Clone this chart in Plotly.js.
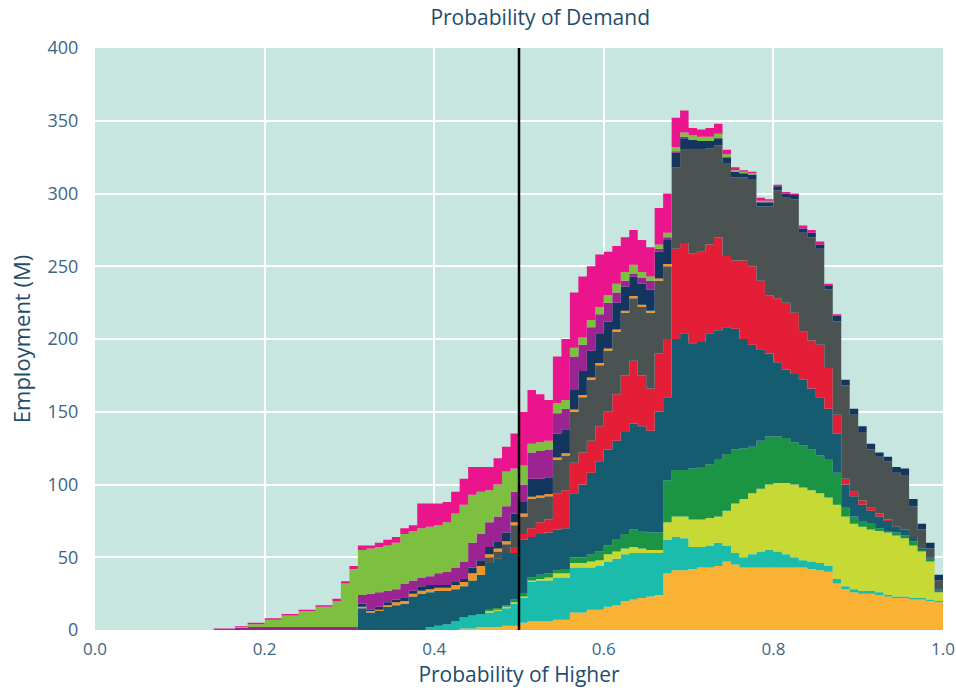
<!DOCTYPE html>
<html>
<head>
<meta charset="utf-8">
<script src="https://cdn.plot.ly/plotly-3.0.1.min.js"></script>
<style>html,body{margin:0;padding:0;background:#fff;}#chart{width:956px;height:693px;}</style>
</head>
<body>
<div id="chart"></div>
<script>
// x positions (Probability of Higher)
const xVals = [0.14,0.165,0.18,0.20,0.22,0.24,0.26,0.28,0.29,0.30,
  0.31,0.32,0.33,0.34,0.35,0.36,0.37,0.38,0.39,0.40,
  0.41,0.42,0.43,0.44,0.45,0.46,0.47,0.48,0.49,0.50,
  0.51,0.52,0.53,0.54,0.55,0.56,0.57,0.58,0.59,0.60,
  0.61,0.62,0.63,0.64,0.65,0.66,0.67,0.68,0.69,0.70,
  0.71,0.72,0.73,0.74,0.75,0.76,0.77,0.78,0.79,0.80,
  0.81,0.82,0.83,0.84,0.85,0.86,0.87,0.88,0.89,0.90,
  0.91,0.92,0.93,0.94,0.95,0.96,0.97,0.98,0.99,1.00];

// cumulative top of each band (Employment, M), bottom band first
const topOrange = [0,0,0,0,0,0,0,0,0,0, 0,0,0,0,0,0,0,0,0,0,
  0,0,1,1,2,2,2,3,3,5, 6,6,6,7,7,12,12,14,14,16,
  17,20,21,22,23,24,39,41,41,42, 43,43,44,47,45,43,43,43,43,43,
  43,43,43,42,41,40,32,28,26,25, 25,24,23,22,22,21,21,20,19,18];
const topCyan = [0,0,0,0,0,0,0,0,0,0, 0,0,0,0,0,0,0,0,2,3,
  4,6,9,10,11,12,13,15,18,22, 33,34,34,36,36,43,43,43,44,47,
  49,52,53,53,53,53,62,64,63,57, 57,58,60,58,53,50,52,54,55,54,
  52,50,48,47,46,44,35,30,28,27, 27,26,24,23,23,22,22,21,20,19];
const topYellow = [0,0,0,0,0,0,0,0,0,0, 0,0,0,0,0,0,0,0,2,3,
  4,6,9,10,11,13,14,16,19,23, 34,35,36,39,39,46,46,47,48,52,
  54,56,57,56,55,55,74,78,78,76, 76,77,78,82,87,90,94,97,100,101,
  101,100,98,96,94,91,86,78,73,71, 69,68,67,65,63,58,54,47,26,24];
const topGreen = [0,0,0,0,0,0,0,0,0,0, 0,0,0,0,0,0,0,0,2,3,
  4,6,9,10,11,14,15,17,21,25, 36,38,39,41,42,50,50,52,54,58,
  62,66,69,68,67,67,103,110,110,111, 112,114,117,121,124,125,126,130,133,133,
  132,129,127,124,120,117,108,84,78,75, 73,70,68,67,65,61,55,49,27,25];
const topTeal = [0,0,0,0,0,0,0,0,0,0, 15,12,13,16,17,18,23,25,26,27,
  27,28,30,34,38,46,49,53,53,62, 64,66,67,69,70,94,100,108,116,124,
  130,136,142,140,137,150,160,200,204,197, 198,204,206,208,207,200,196,193,190,184,
  179,176,172,166,160,152,135,100,92,86, 82,78,75,71,69,64,56,50,28,25];
const topRed = [0,0,0,0,0,0,0,0,0,0, 15,12,13,16,17,18,23,25,26,27,
  27,28,30,34,38,46,49,53,57,66, 70,74,76,94,96,115,122,130,140,150,
  162,175,185,175,166,190,200,262,266,259, 260,265,270,257,254,254,250,240,230,228,
  225,218,205,199,196,180,148,104,95,89, 84,80,76,71,69,64,56,50,28,25];
const topGray = [0,0,0,0,0,0,0,0,0,0, 15,12,13,16,17,18,23,25,26,27,
  27,28,30,34,38,50,54,59,72,78, 90,91,92,117,120,150,160,172,182,192,
  205,218,228,222,218,240,250,318,330,330, 330,331,333,321,311,311,310,291,291,302,
  297,296,273,270,262,234,212,168,148,136, 124,119,116,108,106,85,69,56,34,27];
const topOrangeLine = [0,0,0,0,0,0,0,0,0,0, 16,13,14,17,19,20,25,27,28,29,
  29,31,33,39,44,52,56,61,74,80, 91.5,92.5,93.5,118.5,121.5,151.5,161.5,173.5,183.5,193.5,
  206.5,219.5,229.5,223.5,219.5,241.5,251.5,318,330,330, 330,331,333,321,311,311,310,291,291,302,
  297,296,273,270,262,234,212,168,148,136, 124,119,116,108,106,85,69,56,34,27];
const topNavy = [0,0,0,0,0,0,0,0,0,0, 18,14,16,19,21,22,27,30,31,31,
  31,33,35,43,48,57,61,67,80,88, 104,104,105,135,138,165,178,192,204,212,
  225,236,243,238,234,260,268,328,338,337, 336,336,338,325,315,314,313,294,294,305,
  300,299,276,273,265,237,216,172,152,140, 128,122,119,112,111,90,73,60,38,30];
const topPurple = [0,1.5,2,2,2,2,2,2,2,2, 24,25,26,27,28,32,34,36,37,39,
  40,43,47,60,66,74,78,85,95,100, 122,123,124,149,152,188,196,208,217,225,
  232,240,245,242,240,262,270,329,339,337, 336,336,338,325,315,314,313,294,294,305,
  300,299,276,273,265,237,216,172,152,140, 128,122,119,112,111,90,73,60,38,30];
const topLime = [0,2,4,7,10,13,16,20,32,42, 55,56,57,58,60,66,68,70,71,72,
  74,80,86,93,95,96,100,109,111,113, 128,129,130,156,158,194,201,213,222,230,
  238,246,251,246,243,265,273,332,342,340, 339,339,341,327,316,315,314,295,295,305,
  300,299,276,273,265,237,216,172,152,140, 128,122,119,112,111,90,73,60,38,30];
const topPink = [1,2.5,5,8,11,14,17,21.5,33.5,44, 58,58,60,62,64,70,72,87,87,87,
  88,95,104,112,112,112,118,126,135,150, 165,162,158,188,200,232,243,250,258,260,
  264,270,275,268,263,290,300,352,357,345, 344,345,348,330,318,316,315,297,296,306,
  301,300,278,275,267,238,217,172,152,140, 128,122,119,112,111,90,73,60,38,30];

const bands = [
  {name:'Orange', y: topOrange, color:'#f9b234'},
  {name:'Cyan', y: topCyan, color:'#1cbcad'},
  {name:'Yellow', y: topYellow, color:'#c6d935'},
  {name:'Green', y: topGreen, color:'#1b9444'},
  {name:'Teal', y: topTeal, color:'#165c70'},
  {name:'Red', y: topRed, color:'#e41e36'},
  {name:'Gray', y: topGray, color:'#4b5252'},
  {name:'OrangeLine', y: topOrangeLine, color:'#f39325'},
  {name:'Navy', y: topNavy, color:'#14365e'},
  {name:'Purple', y: topPurple, color:'#9b2392'},
  {name:'Lime', y: topLime, color:'#7dbf3e'},
  {name:'Pink', y: topPink, color:'#ea148c'}
];

const traces = bands.map((b, i) => ({
  type:'scatter', mode:'lines', name:b.name, x:xVals, y:b.y,
  line:{shape:'hv', width:0, color:b.color},
  fill: i === 0 ? 'tozeroy' : 'tonexty',
  fillcolor:b.color, hoverinfo:'skip', showlegend:false
}));

const tickColor = '#3e6584';
const titleColor = '#1f4d6d';
const font = 'Open Sans, Noto Sans, sans-serif';

const layout = {
  width:956, height:693,
  margin:{l:95, r:13, t:48, b:63},
  paper_bgcolor:'#ffffff', plot_bgcolor:'#c7e6df',
  font:{family:font, color:tickColor},
  showlegend:false,
  title:{text:'Probability of Demand', font:{family:font, size:21, color:titleColor},
    x:0.525, xref:'paper', xanchor:'center', y:0.974, yref:'container', yanchor:'middle'},
  xaxis:{range:[0,1.0], tickvals:[0,0.2,0.4,0.6,0.8,1.0], ticktext:['0.0','0.2','0.4','0.6','0.8','1.0'],
    showgrid:true, gridcolor:'#ffffff', gridwidth:2, zeroline:false, showline:false,
    ticks:'outside', ticklen:4, tickcolor:'rgba(0,0,0,0)',
    tickfont:{family:font, size:17, color:tickColor},
    title:{text:'Probability of Higher', font:{family:font, size:21, color:titleColor}, standoff:6}},
  yaxis:{range:[0,400], dtick:50, showgrid:true, gridcolor:'#ffffff', gridwidth:2,
    zeroline:false, showline:false, ticks:'outside', ticklen:12, tickcolor:'rgba(0,0,0,0)',
    tickfont:{family:font, size:18, color:tickColor},
    title:{text:'Employment (M)', font:{family:font, size:22, color:titleColor}, standoff:10}},
  shapes:[{type:'line', xref:'x', yref:'paper', x0:0.5, x1:0.5, y0:0, y1:1,
    line:{color:'#000000', width:2.5}}]
};

Plotly.newPlot('chart', traces, layout, {displayModeBar:false, staticPlot:true});
</script>
</body>
</html>
